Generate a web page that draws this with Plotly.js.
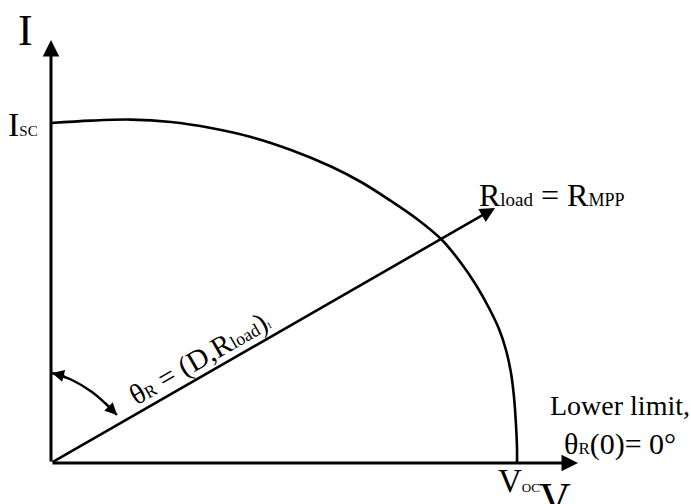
<!DOCTYPE html>
<html>
<head>
<meta charset="utf-8">
<script src="https://cdn.plot.ly/plotly-3.0.1.min.js"></script>
<style>
  html, body { margin: 0; padding: 0; background: #ffffff; }
  #chart { width: 691px; height: 504px; }
</style>
</head>
<body>
<div id="chart"></div>
<script>
// I-V characteristic of a PV source (schematic units, origin at 0,0)
const curveV = [0, 40, 80, 120, 160, 200, 240, 280, 310, 340, 366, 391, 410, 425, 438, 448, 455, 460, 463, 465, 466, 466];
const curveI = [340, 342.4, 343.4, 341, 335, 326, 313, 296.5, 281, 262, 244, 223, 200, 178, 155, 134, 113, 90, 66, 38, 15, 0];

// Load line from the origin through the maximum power point
const loadV = [0, 444];
const loadI = [0, 255];

// Angle marker between the I axis and the load line
const arcV = [1, 21, 41, 54, 66];
const arcI = [90, 83, 71, 60, 48];

// Axis extents (arrow tips)
const axisV = [0, 527];
const axisI = [0, 423];

const serif = '"Liberation Serif", "Times New Roman", Times, serif';
const ink = '#000000';

function sz(px, s) { return '<span style="font-size:' + px + 'px">' + s + '</span>'; }

const traces = [
  {
    x: curveV, y: curveI, type: 'scatter', mode: 'lines',
    line: { color: ink, width: 2.6, shape: 'spline', smoothing: 1 },
    hoverinfo: 'skip'
  },
  {
    x: arcV, y: arcI, type: 'scatter', mode: 'lines',
    line: { color: ink, width: 2.4, shape: 'spline', smoothing: 1 },
    hoverinfo: 'skip'
  }
];

function arrow(x0, y0, x1, y1, w, size) {
  return {
    x: x1, y: y1, ax: x0, ay: y0,
    xref: 'x', yref: 'y', axref: 'x', ayref: 'y',
    showarrow: true, arrowhead: 2, arrowsize: size, arrowwidth: w,
    arrowcolor: ink, text: ''
  };
}

function label(x, y, text, size, opts) {
  return Object.assign({
    x: x, y: y, xref: 'x', yref: 'y', text: text, showarrow: false,
    font: { family: serif, size: size, color: ink },
    xanchor: 'center', yanchor: 'middle'
  }, opts || {});
}

const annotations = [
  // axes
  arrow(axisV[0], axisI[0], axisV[0], axisI[1], 3, 1.1),
  arrow(axisV[0], axisI[0], axisV[1], axisI[0], 3, 1.1),
  // load line
  arrow(loadV[0], loadI[0], loadV[1], loadI[1], 2.6, 1.15),
  // angle marker heads
  arrow(arcV[0] + 14, arcI[0] - 3.5, arcV[0], arcI[0], 2.4, 1),
  arrow(arcV[4] - 10, arcI[4] + 10, arcV[4], arcI[4], 2.4, 1),

  // axis names
  label(-26, 433, 'I', 44),
  label(504, -35, 'V', 44),
  // intercepts
  label(-11, 339, 'I' + sz(15, 'SC'), 34, { xanchor: 'right' }),
  label(468, -18, 'V' + sz(13, 'OC'), 33),
  // load line label
  label(500, 268, 'R' + sz(19, 'load') + ' = R' + sz(18, 'MPP'), 32),
  label(148, 105, 'θ' + sz(17, 'R') + ' = (D,R' + sz(18, 'load') + ')' + sz(9, 'I'), 29, { textangle: -30 }),
  // lower limit note
  label(569, 58, 'Lower limit,', 28),
  label(569, 19, 'θ' + sz(17, 'R') + '(0)= 0°', 30)
];

const layout = {
  width: 691, height: 504,
  margin: { l: 0, r: 0, t: 0, b: 0, pad: 0 },
  paper_bgcolor: '#ffffff', plot_bgcolor: '#ffffff',
  font: { family: serif, color: ink },
  showlegend: false, hovermode: false,
  xaxis: { range: [-51, 640], visible: false, fixedrange: true },
  yaxis: { range: [-41, 463], visible: false, fixedrange: true },
  annotations: annotations
};

Plotly.newPlot('chart', traces, layout, { staticPlot: true, displayModeBar: false });
</script>
</body>
</html>
